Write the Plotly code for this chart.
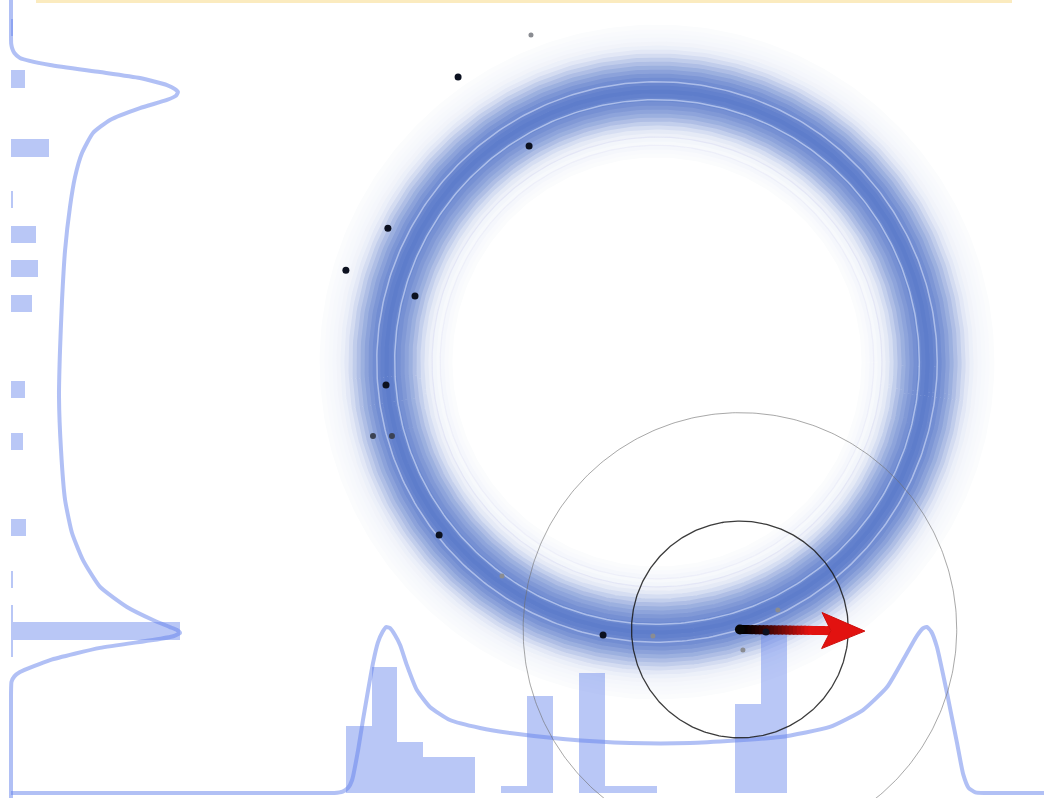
import numpy as np
import plotly.graph_objects as go

# ---------------------------------------------------------------------------
# Data (ring prior centred at the origin with radius 1; same units on x and y)
# ---------------------------------------------------------------------------
sample_x = [-0.465, -0.734, -0.472, -0.993, -1.148, -0.893, -1.000, -1.048,
            -0.978, -0.804, -0.572, -0.199, -0.015, 0.402, 0.446, 0.317]
sample_y = [1.207, 1.052, 0.797, 0.494, 0.339, 0.244, -0.085, -0.273,
            -0.273, -0.638, -0.790, -1.007, -1.011, -0.996, -0.915, -1.063]
sample_kind = ["low", "high", "high", "high", "high", "high", "high", "mid",
               "mid", "high", "low", "high", "low", "high", "low", "low"]

# current estimate, its two search radii and the motion vector
estimate_x, estimate_y = 0.306, -0.987
search_radii = [0.4, 0.8]
motion_dx, motion_dy = 0.461, -0.006

ring_radius = 1.0

# weighted histogram of the sample x positions (bottom margin)
hist_x_start = -1.1494
hist_x_width = 0.0959
hist_x_weights = [0.396, 0.746, 0.302, 0.213, 0.213, 0.0, 0.041, 0.574, 0.0,
                  0.710, 0.041, 0.041, 0.0, 0.0, 0.0, 0.527, 0.994]

# weighted histogram of the sample y positions (left margin), listed top-down
hist_y_top = 1.2671
hist_y_height = 0.06365
hist_y_weights = [0.012, 0.0, 0.0, 0.083, 0.0, 0.0, 0.0, 0.225, 0.0, 0.0,
                  0.012, 0.0, 0.148, 0.0, 0.160, 0.0, 0.124, 0.0, 0.0, 0.0,
                  0.0, 0.083, 0.0, 0.0, 0.071, 0.0, 0.0, 0.0, 0.0, 0.089,
                  0.0, 0.0, 0.012, 0.0, 0.012, 1.0, 0.012]

# marginal densities of the ring prior
kde_x_pos = [-2.384, -1.300, -1.190, -1.160, -1.140, -1.125, -1.103, -1.085,
             -1.066, -1.048, -1.030, -1.012, -1.000, -0.985, -0.967, -0.948,
             -0.923, -0.886, -0.838, -0.764, -0.653, -0.542, -0.347, -0.100,
             0.122, 0.454, 0.638, 0.760, 0.849, 0.908, 0.959, 0.982, 0.996,
             1.012, 1.033, 1.070, 1.107, 1.130, 1.150, 1.175, 1.210, 1.428]
kde_x_den = [0.0, 0.0, 0.0, 0.008, 0.030, 0.077, 0.254, 0.432,
             0.609, 0.769, 0.890, 0.955, 0.982, 0.975, 0.935, 0.876,
             0.757, 0.609, 0.509, 0.432, 0.385, 0.355, 0.320, 0.296,
             0.296, 0.331, 0.391, 0.491, 0.627, 0.787, 0.930, 0.975, 0.982,
             0.955, 0.864, 0.592, 0.296, 0.110, 0.030, 0.004, 0.0, 0.0]

kde_y_pos = [1.336, 1.200, 1.175, 1.159, 1.140, 1.122, 1.096, 1.070, 1.048,
             1.022, 1.008, 0.996, 0.982, 0.967, 0.937, 0.893, 0.845, 0.771,
             0.683, 0.572, 0.413, 0.229, 0.044, -0.129, -0.325, -0.509,
             -0.631, -0.731, -0.830, -0.904, -0.952, -0.978, -0.989, -1.000,
             -1.012, -1.026, -1.055, -1.100, -1.144, -1.160, -1.180, -1.230,
             -1.609]
kde_y_den = [0.0, 0.0, 0.001, 0.006, 0.020, 0.053, 0.231, 0.527, 0.763,
             0.923, 0.968, 0.988, 0.975, 0.923, 0.763, 0.586, 0.485, 0.420,
             0.379, 0.349, 0.320, 0.302, 0.290, 0.284, 0.296, 0.320,
             0.361, 0.426, 0.527, 0.686, 0.840, 0.940, 0.982, 1.000,
             0.960, 0.840, 0.527, 0.231, 0.053, 0.020, 0.003, 0.0,
             0.0]

# ---------------------------------------------------------------------------
# Layout geometry / style
# ---------------------------------------------------------------------------
W, H = 1044, 798
PX = 271.0                    # pixels per data unit
ORIGIN_PX = (657, 362)        # pixel position of the ring centre
DEN_PX = 169.0                # pixels per density unit in the margins
LEFT_BASE_PX = 11
BOTTOM_BASE_PX = 793

x_range = [-ORIGIN_PX[0] / PX, (W - ORIGIN_PX[0]) / PX]
y_range = [-(H - ORIGIN_PX[1]) / PX, ORIGIN_PX[1] / PX]
x2_range = [-LEFT_BASE_PX / DEN_PX, (W - LEFT_BASE_PX) / DEN_PX]
y2_range = [-(H - BOTTOM_BASE_PX) / DEN_PX, BOTTOM_BASE_PX / DEN_PX]

RING_DARK = np.array([70, 106, 196])
ring_band_step_px = 4
ring_profile = [0.02, 0.03, 0.05, 0.04, 0.06, 0.09, 0.14, 0.22, 0.32, 0.43,
                0.53, 0.61, 0.68, 0.74, 0.79, 0.84, 0.87, 0.84, 0.80, 0.76,
                0.70, 0.62, 0.53, 0.43, 0.33, 0.23, 0.15, 0.10, 0.07, 0.05,
                0.04, 0.03, 0.02]

BAR_COLOR = "rgba(100,130,235,0.45)"
KDE_COLOR = "rgba(100,130,235,0.5)"

theta = np.linspace(0, 2 * np.pi, 400)


def circle(cx, cy, r):
    return cx + r * np.cos(theta), cy + r * np.sin(theta)


fig = go.Figure()

# --- ring prior: concentric bands shaded by intensity ---
n_half = len(ring_profile) // 2
for i, inten in enumerate(ring_profile):
    r = ring_radius + (i - n_half) * ring_band_step_px / PX
    c = (255 - inten * (255 - RING_DARK)).astype(int)
    cx, cy = circle(0, 0, r)
    fig.add_trace(go.Scatter(x=cx, y=cy, mode="lines", hoverinfo="skip",
                             line=dict(color=f"rgb({c[0]},{c[1]},{c[2]})",
                                       width=ring_band_step_px + 0.8)))

# thin highlight contours inside the band and faint inner contours
for dr, col, w in [(-0.032, "rgba(225,234,255,0.55)", 1.5),
                   (0.034, "rgba(225,234,255,0.55)", 1.5),
                   (-0.17, "rgba(185,185,235,0.18)", 1.2),
                   (-0.20, "rgba(185,185,235,0.14)", 1.2)]:
    cx, cy = circle(0, 0, ring_radius + dr)
    fig.add_trace(go.Scatter(x=cx, y=cy, mode="lines", hoverinfo="skip",
                             line=dict(color=col, width=w)))

# --- marginal histograms and densities ---
hx_centers = [hist_x_start + (i + 0.5) * hist_x_width for i in range(len(hist_x_weights))]
fig.add_trace(go.Bar(x=hx_centers, y=hist_x_weights, width=hist_x_width,
                     xaxis="x", yaxis="y2", marker=dict(color=BAR_COLOR, line=dict(width=0)),
                     hoverinfo="skip"))
hy_centers = [hist_y_top - (i + 0.5) * hist_y_height for i in range(len(hist_y_weights))]
fig.add_trace(go.Bar(y=hy_centers, x=hist_y_weights, width=hist_y_height, orientation="h",
                     xaxis="x2", yaxis="y", marker=dict(color=BAR_COLOR, line=dict(width=0)),
                     hoverinfo="skip"))

fig.add_trace(go.Scatter(x=kde_x_pos, y=kde_x_den, xaxis="x", yaxis="y2", mode="lines",
                         line=dict(color=KDE_COLOR, width=4, shape="spline", smoothing=0.5),
                         hoverinfo="skip"))
fig.add_trace(go.Scatter(x=kde_y_den, y=kde_y_pos, xaxis="x2", yaxis="y", mode="lines",
                         line=dict(color=KDE_COLOR, width=4, shape="spline", smoothing=0.5),
                         hoverinfo="skip"))

# --- top layer: search circles, motion arrow, samples ---
for r, col, w in zip(search_radii, ["rgba(25,25,25,0.85)", "rgba(110,110,110,0.6)"], [1.3, 1.0]):
    cx, cy = circle(estimate_x, estimate_y, r)
    fig.add_trace(go.Scatter(x=cx, y=cy, mode="lines", xaxis="x3", yaxis="y3",
                             line=dict(color=col, width=w), hoverinfo="skip"))

# arrow: shaft fading from black to red, then a notched head
tip_x, tip_y = estimate_x + motion_dx, estimate_y + motion_dy
head_len, head_half, notch = 43 / PX, 18 / PX, 9 / PX
norm = np.hypot(motion_dx, motion_dy)
ux, uy = motion_dx / norm, motion_dy / norm
vx, vy = -uy, ux
shaft_end = norm - head_len + notch
n_seg = 24
seg_overlap = 1.5 / PX
RED = np.array([226, 18, 16])
for k in range(n_seg):
    t0 = k / n_seg * shaft_end
    t1 = min(shaft_end, (k + 1) / n_seg * shaft_end + seg_overlap)
    f = min(1.0, ((k + 0.5) / (n_seg * 0.75)) ** 1.4)
    c = (f * RED).astype(int)
    fig.add_trace(go.Scatter(x=[estimate_x + ux * t0, estimate_x + ux * t1],
                             y=[estimate_y + uy * t0, estimate_y + uy * t1],
                             mode="lines", xaxis="x3", yaxis="y3", hoverinfo="skip",
                             line=dict(color=f"rgb({c[0]},{c[1]},{c[2]})", width=9)))
fig.add_trace(go.Scatter(x=[estimate_x], y=[estimate_y], mode="markers", xaxis="x3", yaxis="y3",
                         marker=dict(size=10, color="#050505"), hoverinfo="skip"))
bx, by = tip_x - ux * head_len, tip_y - uy * head_len
nx, ny = tip_x - ux * (head_len - notch), tip_y - uy * (head_len - notch)
fig.add_trace(go.Scatter(
    x=[tip_x, bx + vx * head_half, nx, bx - vx * head_half, tip_x],
    y=[tip_y, by + vy * head_half, ny, by - vy * head_half, tip_y],
    mode="lines", fill="toself", fillcolor="rgb(226,18,16)", xaxis="x3", yaxis="y3",
    line=dict(color="rgb(205,14,12)", width=1), hoverinfo="skip"))

kind_style = {"high": (7, "#0c1120"), "mid": (6, "#3b4254"), "low": (5, "#8a8c92")}
for kind, (size, col) in kind_style.items():
    xs = [x for x, k in zip(sample_x, sample_kind) if k == kind]
    ys = [y for y, k in zip(sample_y, sample_kind) if k == kind]
    fig.add_trace(go.Scatter(x=xs, y=ys, mode="markers", xaxis="x3", yaxis="y3",
                             marker=dict(size=size, color=col), hoverinfo="skip"))

hidden = dict(visible=False, showgrid=False, zeroline=False, fixedrange=True)
fig.update_layout(
    width=W, height=H, margin=dict(l=0, r=0, t=0, b=0),
    paper_bgcolor="white", plot_bgcolor="white", showlegend=False,
    bargap=0,
    xaxis=dict(range=x_range, domain=[0, 1], anchor="y", **hidden),
    yaxis=dict(range=y_range, domain=[0, 1], anchor="x", **hidden),
    xaxis2=dict(range=x2_range, overlaying="x", anchor="y", **hidden),
    yaxis2=dict(range=y2_range, overlaying="y", anchor="x", **hidden),
    xaxis3=dict(range=x_range, overlaying="x", anchor="y3", **hidden),
    yaxis3=dict(range=y_range, overlaying="y", anchor="x3", **hidden),
    shapes=[dict(type="rect", xref="paper", yref="paper", x0=36 / W, x1=1012 / W,
                 y0=1 - 3 / H, y1=1, fillcolor="#fbebbf", line=dict(width=0))],
)

fig.write_html("out.html")
